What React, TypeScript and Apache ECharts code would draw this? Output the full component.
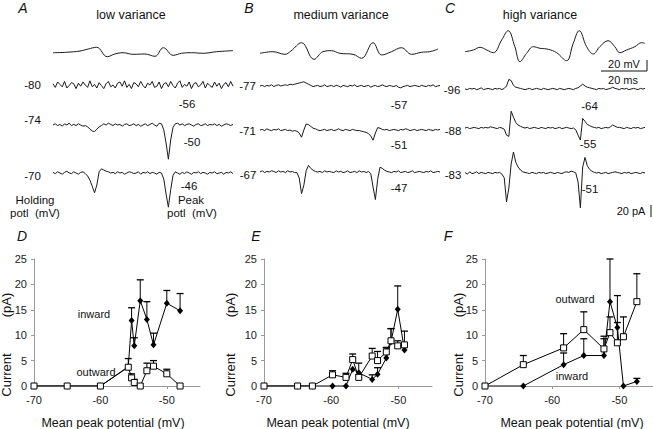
import React, { useEffect, useRef } from "react";
import * as echarts from "echarts";

// ---------- Top traces (current in pA, sampled every 1 ms, 0..78 ms) ----------
const A_m80 = [
  2, -4, 5, 1, -3, 6, -5, -1, 4, 2,
  -6, 3, -2, 5, 0, -4, 7, -3, 1, -5,
  4, -1, -6, 2, 6, -3, 0, -5, 3, 5,
  -2, 7, -4, 1, -6, 4, 2, -3, 6, -1,
  -5, 3, 0, 6, -4, -2, 5, -6, 2, 4,
  -3, 6, -1, -5, 3, 7, -4, 1, -2, 5,
  -6, 2, 4, -3, 0, 6, -5, 3, -1, -4,
  5, -2, 3, -6, 1, 4, -3, 6, -2,
];
const A_m74 = [
  0, 2, -1, 1, -2, 2, 0, 3, -1, 1,
  -1, 2, 0, -2, -1, -3, -7, -10, -11, -7,
  -3, -1, 2, 0, 3, 1, -1, 2, 0, 1,
  -2, 1, 2, -1, 0, 2, -1, 1, -2, 0,
  2, -1, 1, 3, 0, -2, 3, 2, -8, -30,
  -57, -25, -4, 2, 3, 0, 2, -1, 1, 2,
  0, -2, 1, 2, -1, 0, 2, -1, 1, 0,
  2, -1, 1, -2, 0, 2, 1, -1, 1,
];
const A_m70 = [
  1, -1, 2, 0, -2, 1, 3, 0, -1, 2,
  0, -2, 1, 2, -1, -5, -12, -22, -33, -20,
  2, 7, 5, 3, 2, 0, 1, -1, 2, 0,
  1, -2, 0, 2, 1, -1, 0, 2, -2, 1,
  0, 2, -1, 1, 0, -2, 1, 0, -10, -35,
  -57, -28, -4, 2, 0, -2, 1, -1, 2, 0,
  -2, 1, 0, 2, -1, 1, 0, -2, 1, 0,
  2, -1, 0, 1, -2, 1, 0, 2, -1,
];
const B_m77 = [
  0, 1, -1, 1, 0, 2, -1, 1, 2, 0,
  1, 2, 1, 3, 2, 3, 4, 5, 6, 7,
  5, 3, 1, -1, 0, 1, -1, 0, 2, -1,
  0, 1, -1, 1, 0, -2, 1, 0, -1, 1,
  0, 2, -1, 0, 1, -1, 0, 1, -2, 0,
  1, -1, 0, 2, 0, -1, 1, 0, -1, 1,
  -2, -3, -1, 0, 1, -1, 0, 1, 0, -1,
  1, 0, -1, 1, 0, 2, -1, 0, 1,
];
const B_m71 = [
  0, 1, -1, 2, 0, -1, 1, 0, 2, -1,
  0, 1, -1, 0, -2, -1, -2, -5, -12, 0,
  10, 9, 6, 3, 2, 0, -1, 0, 1, -1,
  0, 1, -1, 0, 2, 0, -1, 1, 0, -1,
  1, 0, -1, -1, -2, -3, -4, -6, -10, -17,
  -5, 4, 3, 1, 0, 1, -1, 0, 1, 0,
  -1, 1, 0, 2, 1, -1, 0, 1, -1, 0,
  1, 0, -1, 1, 0, -1, 1, 0, 1,
];
const B_m67 = [
  0, 2, -1, 1, 0, 2, 1, -1, 2, 0,
  1, -1, 2, 0, 1, -1, -1, -10, -36, -22,
  2, 11, 6, 3, 1, 0, 1, -1, 2, 0,
  1, 0, -1, 2, 0, 1, -1, 0, 2, -1,
  0, 1, -1, 2, 0, 1, -1, 1, -3, -25,
  -46, -12, 8, 6, 3, 1, 0, -1, 1, 0,
  2, -1, 0, 1, -1, 0, 2, -1, 0, 1,
  0, -1, 1, 0, 2, -1, 0, 1, 0,
];
const C_m96 = [
  0, -1, 1, 0, 1, -1, 0, 2, -1, 0,
  1, 0, -1, 1, 0, 1, -1, 1, 5, 16,
  14, 6, 3, 2, 1, 0, -1, 0, 1, -1,
  0, 1, 0, -1, 1, 0, -1, 0, 1, 0,
  -1, 1, 0, -1, 0, 1, 0, -1, 1, 2,
  5, 8, 5, 3, 2, 1, 0, -1, 1, 0,
  1, -1, 0, 1, 3, 1, 0, -1, 1, 0,
  1, -1, 0, 1, 0, -1, 1, 0, 1,
];
const C_m88 = [
  0, 1, -1, 0, 1, 0, -1, 1, 0, 1,
  0, 2, 1, 0, -1, 1, 0, -2, -12, -14,
  28, 18, 9, 5, 3, 1, 0, 1, -1, 0,
  1, 0, -1, 1, 0, -1, 1, 0, 1, -1,
  0, 1, -1, 0, 1, 0, -1, 0, -3, -12,
  -20, 16, 11, 6, 4, 2, 1, 0, 1, -1,
  0, 1, 0, 2, 5, 3, 1, 1, 0, -1,
  1, 0, -1, 1, 0, 1, -1, 0, 1,
];
const C_m83 = [
  1, -2, 2, -1, 0, 2, -1, 1, 0, -1,
  1, 0, -1, 1, 0, 1, -2, -8, -48, -25,
  15, 35, 18, 10, 5, 2, 1, 0, -1, 1,
  0, -1, 1, 0, 1, -1, 0, 1, 0, -1,
  1, 0, -1, 1, 2, 1, 3, 2, 0, -15,
  -58, 10, 26, 12, 6, 3, 1, 0, 1, -1,
  0, 1, -1, 0, 1, 2, 1, 0, -1, 1,
  0, 1, -1, 0, 1, 0, -1, 1, 0,
];

// voltage traces (ms, mV relative)
const vA_t = [0, 5.8, 11.7, 15.3, 18.9, 23.5, 26.8, 30.4, 34.7, 39.8, 44.2, 47.8, 52.1, 55.7, 60.1, 65.1, 70.9, 78];
const vA_v = [0.5, 1.3, 3.6, 7.3, 10.4, -6.7, -1.8, 0.5, -2.4, -1.8, -6, 9.6, -4.2, -0.5, 0.5, -0.5, 2.4, 4.2];
const vB_t = [0, 5.6, 10.8, 13.4, 18, 23.4, 27.3, 31, 34.6, 40.3, 44, 49, 52.7, 57, 61.3, 65.7, 70, 73.6, 77.2];
const vB_v = [-1.5, 1.5, -3.3, 2.7, 17.8, -12.4, 1.5, 3.3, -1.5, -3.3, -10.5, 17.8, -4.5, 1.5, 8.7, -3.3, 0.4, 1.5, 6.4];
const vC_t = [0, 3.6, 6.5, 9.4, 12.3, 15.9, 18.7, 21.6, 23.8, 26.7, 29.6, 32.5, 36.1, 39.7, 44, 46.9, 49.5, 52.7, 55.6, 58.4, 62, 64.9, 67.1, 70, 73.6, 76.5, 77.9];
const vC_v = [-3.1, 0, 4.9, 0, -4.9, 18.2, 35.1, 6, -21.3, -6, 6, 3.1, 1.3, -4.9, -19.5, 12.2, 35.1, 6, -7.3, 6, 16.9, 6, -4.9, 0, 6, 13.3, 12.2];

// ---------- Bottom panels ----------
const D_x = [-70, -65, -60, -55.8, -55.3, -54.9, -54, -53, -52, -50, -48];
const D_in = [0, 0, 0, 3.8, 12.9, 7.9, 16.8, 13.1, 8.1, 16.3, 14.8];
const D_inErr = [null, null, null, null, 15.4, 9.5, 20.9, 16.6, 10.4, 18.8, 18.2];
const D_out = [0, 0, 0, 3.7, 1.6, 0.7, 0, 3.0, 3.9, 2.4, 0];
const D_outErr = [null, null, null, 5.4, 2.4, 1.3, null, 4.5, 5.0, 3.3, null];

const E_x = [-70, -65, -62.8, -59.8, -57.8, -56.8, -55.9, -53.9, -53.1, -51.8, -51.1, -50.1, -49.1];
const E_in = [0, 0, 0, 0, 0, 3.3, 2.6, 1.3, 2.3, 5.5, 8.7, 15.1, 7.1];
const E_inErr = [null, null, null, null, null, null, 4.5, 2.2, 3.6, 7.6, 11.3, 19.7, null];
const E_out = [0, 0, 0, 2.2, 1.7, 5.2, 1.7, 5.9, 5.0, 6.7, 8.9, 7.9, 8.1];
const E_outErr = [null, null, null, 3.0, 2.5, 6.3, 2.2, 7.4, 6.8, 7.5, 11.3, 8.9, 10.8];

const F_x = [-70, -64.3, -58.3, -55.3, -52.3, -51.4, -50.3, -49.4, -47.4];
const F_in = [0, 0, 4.2, 6.0, 6.0, 16.6, 11.5, 0, 0.9];
const F_inErr = [null, null, 6.5, 9.3, 9.3, 25.0, 12.5, null, 1.5];
const F_out = [0, 4.2, 7.5, 11.1, 7.3, 10.5, 8.5, 9.7, 16.6];
const F_outErr = [null, 6.0, 10.3, 14.6, 9.8, 13.6, 17.8, 13.6, 22.1];

const yTicks = [0, 5, 10, 15, 20, 25];

const FONT = "'Liberation Sans', Arial, Helvetica, sans-serif";

function txt(text: string, x: number, y: number, size: number, o: any = {}) {
  return {
    type: "text",
    x,
    y,
    rotation: o.rot || 0,
    silent: true,
    style: {
      text,
      fill: "#111",
      font: `${o.italic ? "italic " : ""}${size}px ${FONT}`,
      textAlign: o.align || "center",
      align: o.align || "center",
      textVerticalAlign: "middle",
      verticalAlign: "middle",
    },
  };
}
function seg(x1: number, y1: number, x2: number, y2: number) {
  return { type: "line", silent: true, shape: { x1, y1, x2, y2 }, style: { stroke: "#111", lineWidth: 1 } };
}

export default function App() {
  const ref = useRef<HTMLDivElement>(null);
  useEffect(() => {
    const chart = echarts.init(ref.current!, null, { renderer: "svg" });
    const grids: any[] = [];
    const xAxes: any[] = [];
    const yAxes: any[] = [];
    const series: any[] = [];

    const traces = [
      { left: 53, base: 53, kind: "v", data: vA_t.map((t, i) => [t, vA_v[i]]) },
      { left: 53, base: 85, kind: "i", data: A_m80.map((v, i) => [i, v]) },
      { left: 53, base: 125, kind: "i", data: A_m74.map((v, i) => [i, v]) },
      { left: 53, base: 173, kind: "i", data: A_m70.map((v, i) => [i, v]) },
      { left: 260, base: 52.5, kind: "v", data: vB_t.map((t, i) => [t, vB_v[i]]) },
      { left: 260, base: 86, kind: "i", data: B_m77.map((v, i) => [i, v]) },
      { left: 260, base: 130, kind: "i", data: B_m71.map((v, i) => [i, v]) },
      { left: 260, base: 172, kind: "i", data: B_m67.map((v, i) => [i, v]) },
      { left: 465, base: 50, kind: "v", data: vC_t.map((t, i) => [t, vC_v[i]]) },
      { left: 465, base: 89, kind: "i", data: C_m96.map((v, i) => [i, v]) },
      { left: 465, base: 128, kind: "i", data: C_m88.map((v, i) => [i, v]) },
      { left: 465, base: 173, kind: "i", data: C_m83.map((v, i) => [i, v]) },
    ];
    traces.forEach((tr, k) => {
      const h = tr.kind === "v" ? 55 : 60;
      grids.push({ left: tr.left, top: tr.base - h / 2, width: 180, height: h, outerBoundsMode: "none" });
      xAxes.push({ gridIndex: k, type: "value", min: 0, max: 78, show: false });
      yAxes.push({ gridIndex: k, type: "value", min: -50, max: 50, show: false });
      series.push({
        type: "line",
        xAxisIndex: k,
        yAxisIndex: k,
        data: tr.data,
        showSymbol: false,
        smooth: tr.kind === "v" ? 0.4 : false,
        clip: false,
        lineStyle: { color: "#1a1a1a", width: 1 },
      });
    });

    const panels = [
      { left: 34, width: 166, x: D_x, inn: D_in, inErr: D_inErr, out: D_out, outErr: D_outErr },
      { left: 264, width: 168, x: E_x, inn: E_in, inErr: E_inErr, out: E_out, outErr: E_outErr },
      { left: 485, width: 168, x: F_x, inn: F_in, inErr: F_inErr, out: F_out, outErr: F_outErr },
    ];
    const errRender = (params: any, api: any) => {
      const x = api.value(0), y = api.value(1), t = api.value(2);
      const p0 = api.coord([x, y]);
      const p1 = api.coord([x, t]);
      return {
        type: "group",
        children: [
          { type: "line", shape: { x1: p0[0], y1: p0[1], x2: p1[0], y2: p1[1] }, style: { stroke: "#000", lineWidth: 1 } },
          { type: "line", shape: { x1: p1[0] - 3.5, y1: p1[1], x2: p1[0] + 3.5, y2: p1[1] }, style: { stroke: "#000", lineWidth: 1.3 } },
        ],
      };
    };
    panels.forEach((p, j) => {
      const k = traces.length + j;
      grids.push({ left: p.left, top: 259, width: p.width, height: 127, outerBoundsMode: "none" });
      xAxes.push({
        gridIndex: k, type: "value", min: -70, max: -45, interval: 10,
        axisLine: { show: true, lineStyle: { color: "#9a9a9a", width: 1 } },
        axisTick: { show: true, length: 3, lineStyle: { color: "#9a9a9a" } },
        axisLabel: { color: "#222", fontSize: 11, fontFamily: FONT, margin: 8, showMaxLabel: false },
        splitLine: { show: false },
      });
      yAxes.push({
        gridIndex: k, type: "value", min: yTicks[0], max: yTicks[yTicks.length - 1], interval: yTicks[1] - yTicks[0],
        axisLine: { show: true, lineStyle: { color: "#9a9a9a", width: 1 } },
        axisTick: { show: true, length: 3, lineStyle: { color: "#9a9a9a" } },
        axisLabel: { color: "#222", fontSize: 11, fontFamily: FONT, margin: 7 },
        splitLine: { show: false },
      });
      const mkErr = (ys: number[], es: (number | null)[]) =>
        p.x.map((x, i) => (es[i] == null ? null : [x, ys[i], es[i]])).filter((d) => d);
      series.push({ type: "custom", xAxisIndex: k, yAxisIndex: k, renderItem: errRender, data: mkErr(p.inn, p.inErr), z: 1, silent: true });
      series.push({ type: "custom", xAxisIndex: k, yAxisIndex: k, renderItem: errRender, data: mkErr(p.out, p.outErr), z: 1, silent: true });
      series.push({
        type: "line", xAxisIndex: k, yAxisIndex: k, z: 3,
        data: p.x.map((x, i) => [x, p.inn[i]]),
        symbol: "diamond", symbolSize: [6, 7], showSymbol: true,
        itemStyle: { color: "#000" }, lineStyle: { color: "#000", width: 1 },
      });
      series.push({
        type: "line", xAxisIndex: k, yAxisIndex: k, z: 4,
        data: p.x.map((x, i) => [x, p.out[i]]),
        symbol: "rect", symbolSize: 6, showSymbol: true,
        itemStyle: { color: "#fff", borderColor: "#000", borderWidth: 1 }, lineStyle: { color: "#000", width: 1 },
      });
    });

    const graphic: any[] = [
      txt("A", 23, 8, 14, { italic: true }),
      txt("B", 249, 8, 14, { italic: true }),
      txt("C", 450, 8, 14, { italic: true }),
      txt("D", 22, 236, 14, { italic: true }),
      txt("E", 256, 236, 14, { italic: true }),
      txt("F", 448, 236, 14, { italic: true }),
      txt("low variance", 131, 15, 12.5),
      txt("medium variance", 341, 15, 12.5),
      txt("high variance", 540, 15, 12.5),
      txt("-80", 32.5, 85, 11.5),
      txt("-74", 32.5, 120, 11.5),
      txt("-70", 32.5, 176, 11.5),
      txt("-56", 187, 104, 11.5),
      txt("-50", 192, 142, 11.5),
      txt("-46", 189, 186, 11.5),
      txt("Holding", 35, 200, 11.5),
      txt("potl  (mV)", 35, 213, 11.5),
      txt("Peak", 191, 200, 11.5),
      txt("potl  (mV)", 192, 213, 11.5),
      txt("-77", 247.5, 86, 11.5),
      txt("-57", 399, 105, 11.5),
      txt("-71", 247.5, 131, 11.5),
      txt("-51", 399, 145, 11.5),
      txt("-67", 248, 175, 11.5),
      txt("-47", 399, 188, 11.5),
      txt("-96", 452, 90, 11.5),
      txt("-64", 589.5, 106, 11.5),
      txt("-88", 453, 131, 11.5),
      txt("-55", 588, 144, 11.5),
      txt("-83", 453, 175, 11.5),
      txt("-51", 590, 189, 11.5),
      txt("20 mV", 624, 64, 11),
      txt("20 ms", 623, 80, 11),
      txt("20 pA", 631, 211, 11),
      seg(601, 71, 647, 71),
      seg(647, 60, 647, 71),
      seg(651, 205, 651, 217),
      txt("inward", 94, 314, 11),
      txt("outward", 96, 372, 11),
      txt("outward", 575, 299, 11),
      txt("inward", 572, 376, 11),
      txt("Mean peak potential (mV)", 113, 423, 12.5),
      txt("Mean peak potential (mV)", 338, 423, 12.5),
      txt("Mean peak potential (mV)", 572, 423, 12.5),
      txt("Current", 6, 375, 13, { rot: Math.PI / 2 }),
      txt("(pA)", 6, 305, 13, { rot: Math.PI / 2 }),
      txt("Current", 230, 375, 13, { rot: Math.PI / 2 }),
      txt("(pA)", 230, 305, 13, { rot: Math.PI / 2 }),
      txt("Current", 458, 375, 13, { rot: Math.PI / 2 }),
      txt("(pA)", 458, 305, 13, { rot: Math.PI / 2 }),
    ];

    chart.setOption({
      animation: false,
      backgroundColor: "#fff",
      grid: grids,
      xAxis: xAxes,
      yAxis: yAxes,
      series,
      graphic,
    });
    return () => chart.dispose();
  }, []);
  return (
    <div
      ref={ref}
      style={{ position: "fixed", left: 0, top: 0, width: 653, height: 429, background: "#fff" }}
    />
  );
}
